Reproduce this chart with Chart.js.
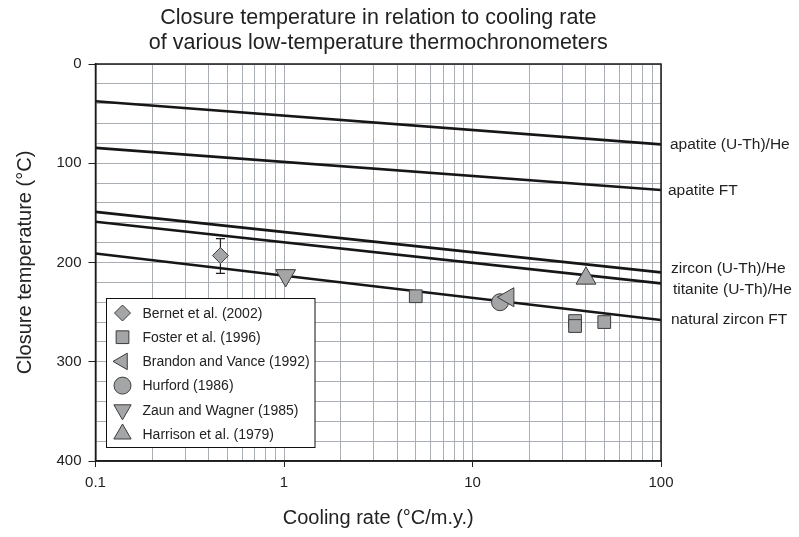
<!DOCTYPE html>
<html>
<head>
<meta charset="utf-8">
<script src="https://cdn.jsdelivr.net/npm/chart.js@4.4.1/dist/chart.umd.min.js"></script>
<style>
  html, body { margin: 0; padding: 0; background: #fff; }
  #wrap { width: 799px; height: 537px; position: relative; }
</style>
</head>
<body>
<div id="wrap"><canvas id="chart"></canvas></div>
<script>
// closure temperature curves: temperature at 0.1 and at 100 degC/m.y.
const rateEnds = [0.1, 100];
const curveNames = ['apatite (U-Th)/He', 'apatite FT', 'zircon (U-Th)/He', 'titanite (U-Th)/He', 'natural zircon FT'];
const curveStart = [37.5, 84.5, 149, 159, 191];
const curveEnd = [81, 127, 210, 221, 258];

// published closure temperatures
const studies = ['Bernet et al. (2002)', 'Foster et al. (1996)', 'Brandon and Vance (1992)', 'Hurford (1986)', 'Zaun and Wagner (1985)', 'Harrison et al. (1979)'];
const bernetRate = [0.46];
const bernetTemp = [193];
const bernetLow = [176];
const bernetHigh = [211];
const fosterRate = [5, 35, 35, 50];
const fosterTemp = [234, 259, 264, 260];
const brandonRate = [15.5];
const brandonTemp = [235];
const hurfordRate = [14];
const hurfordTemp = [240];
const zaunRate = [1.02];
const zaunTemp = [213];
const harrisonRate = [40];
const harrisonTemp = [216];

// axis ticks
const xDecades = [0.1, 1, 10, 100];
const xDecadeLabels = ['0.1', '1', '10', '100'];
const xMultipliers = [1, 2, 3, 4, 5, 6, 7, 8, 9];
const yLabelled = [0, 100, 200, 300, 400];
const yGridStep = 20;

const titleLines = ['Closure temperature in relation to cooling rate', 'of various low-temperature thermochronometers'];

// styling
const FONT = "'Liberation Sans', Arial, sans-serif";
const gridColor = '#a9afb5';
const markFill = '#a4a5a7';
const markEdge = '#3c3c3c';
const labelNudge = [0, 1, -4, 6, 0];
const labelShift = [9, 7, 10, 12, 10];

const xTickValues = [];
xDecades.forEach((d, i) => {
    xMultipliers.forEach(m => {
        if (i === xDecades.length - 1 && m > 1) return;
        xTickValues.push(+(d * m).toPrecision(6));
    });
});
const yTickValues = [];
for (let v = yLabelled[0]; v <= yLabelled[yLabelled.length - 1]; v += yGridStep) yTickValues.push(v);

function isDecade(v) {
    return xDecades.findIndex(d => Math.abs(d - v) < d * 1e-6);
}
function pts(xs, ys) {
    return xs.map((x, i) => ({ x: x, y: ys[i] }));
}

const markerStyles = [
    { pointStyle: 'rectRot', radius: 8, rotation: 0 },
    { pointStyle: 'rect', radius: 9, rotation: 0 },
    { pointStyle: 'triangle', radius: 11, rotation: -90 },
    { pointStyle: 'circle', radius: 8.5, rotation: 0 },
    { pointStyle: 'triangle', radius: 11.5, rotation: 180 },
    { pointStyle: 'triangle', radius: 11.5, rotation: 0 }
];
const studyData = [
    pts(bernetRate, bernetTemp),
    pts(fosterRate, fosterTemp),
    pts(brandonRate, brandonTemp),
    pts(hurfordRate, hurfordTemp),
    pts(zaunRate, zaunTemp),
    pts(harrisonRate, harrisonTemp)
];

const datasets = [];
curveNames.forEach((name, i) => {
    datasets.push({
        label: name,
        data: pts(rateEnds, [curveStart[i], curveEnd[i]]),
        showLine: true,
        borderColor: '#161616',
        borderWidth: 2.6,
        pointRadius: 0,
        pointHoverRadius: 0,
        fill: false,
        order: 2
    });
});
studies.forEach((name, i) => {
    datasets.push({
        label: name,
        data: studyData[i],
        showLine: false,
        pointStyle: markerStyles[i].pointStyle,
        pointRadius: markerStyles[i].radius,
        pointRotation: markerStyles[i].rotation,
        backgroundColor: markFill,
        borderColor: markEdge,
        pointBorderWidth: 1,
        order: 1
    });
});

const decorPlugin = {
    id: 'decor',
    beforeDatasetsDraw(chart) {
        const { ctx, scales: { x, y } } = chart;
        // error bars for Bernet et al.
        ctx.save();
        ctx.strokeStyle = '#222';
        ctx.lineWidth = 1.2;
        bernetRate.forEach((r, i) => {
            const px = x.getPixelForValue(r);
            const lo = y.getPixelForValue(bernetLow[i]);
            const hi = y.getPixelForValue(bernetHigh[i]);
            ctx.beginPath();
            ctx.moveTo(px, lo); ctx.lineTo(px, hi);
            ctx.moveTo(px - 4.5, lo); ctx.lineTo(px + 4.5, lo);
            ctx.moveTo(px - 4.5, hi); ctx.lineTo(px + 4.5, hi);
            ctx.stroke();
        });
        ctx.restore();
    },
    afterDraw(chart) {
        const { ctx, chartArea: a, scales: { y } } = chart;
        ctx.save();
        // frame
        ctx.strokeStyle = '#1a1a1a';
        ctx.lineWidth = 1.5;
        ctx.strokeRect(a.left, a.top, a.right - a.left, a.bottom - a.top);

        // title
        ctx.fillStyle = '#222';
        ctx.font = '21.5px ' + FONT;
        ctx.textAlign = 'center';
        ctx.textBaseline = 'middle';
        const cx = (a.left + a.right) / 2;
        titleLines.forEach((t, i) => ctx.fillText(t, cx, 18.5 + i * 25));

        // curve labels at the right
        ctx.font = '15.5px ' + FONT;
        ctx.textAlign = 'left';
        curveNames.forEach((n, i) => {
            const py = y.getPixelForValue(curveEnd[i]) + labelNudge[i];
            ctx.fillText(n, a.right + labelShift[i], py);
        });

        // legend box
        const bx = 106.5, by = 298.5, bw = 208.5, bh = 149;
        ctx.fillStyle = '#fff';
        ctx.fillRect(bx, by, bw, bh);
        ctx.strokeStyle = '#111';
        ctx.lineWidth = 1;
        ctx.strokeRect(bx, by, bw, bh);
        ctx.font = '14px ' + FONT;
        studies.forEach((s, i) => {
            const iy = by + 14.5 + i * 24.2;
            ctx.fillStyle = markFill;
            ctx.strokeStyle = markEdge;
            ctx.lineWidth = 1;
            const st = markerStyles[i];
            const r = st.pointStyle === 'triangle' ? st.radius - 1.5 : st.radius;
            Chart.helpers.drawPoint(ctx, { pointStyle: st.pointStyle, radius: r, rotation: st.rotation, borderWidth: 1 }, bx + 16, iy);
            ctx.fillStyle = '#222';
            ctx.fillText(s, bx + 36, iy + 1);
        });
        ctx.restore();
    }
};

new Chart(document.getElementById('chart'), {
    type: 'scatter',
    data: { datasets: datasets },
    options: {
        responsive: true,
        maintainAspectRatio: false,
        animation: false,
        layout: { padding: { top: 64, right: 138, bottom: 0, left: 0 } },
        plugins: {
            legend: { display: false },
            title: { display: false },
            tooltip: { enabled: false }
        },
        scales: {
            x: {
                type: 'logarithmic',
                min: 0.1,
                max: 100,
                afterBuildTicks: s => { s.ticks = xTickValues.map(v => ({ value: v })); },
                afterFit: s => { s.height = 76; },
                ticks: {
                    autoSkip: false,
                    maxRotation: 0,
                    padding: 7,
                    color: '#222',
                    font: { family: FONT, size: 15 },
                    callback: v => {
                        const k = isDecade(v);
                        return k >= 0 ? xDecadeLabels[k] : '';
                    }
                },
                grid: {
                    color: gridColor,
                    lineWidth: 1,
                    tickLength: 6,
                    tickColor: c => (c.tick && isDecade(c.tick.value) >= 0) ? '#222' : 'rgba(0,0,0,0)'
                },
                border: { color: '#1a1a1a', width: 1.5 },
                title: {
                    display: true,
                    text: 'Cooling rate (°C/m.y.)',
                    color: '#222',
                    font: { family: FONT, size: 20 },
                    padding: { top: 0, bottom: 7 }
                }
            },
            y: {
                reverse: true,
                min: 0,
                max: 400,
                afterBuildTicks: s => { s.ticks = yTickValues.map(v => ({ value: v })); },
                afterFit: s => { s.width = 95.5; },
                ticks: {
                    autoSkip: false,
                    padding: 7,
                    color: '#222',
                    font: { family: FONT, size: 15 },
                    callback: v => yLabelled.includes(v) ? String(v) : ''
                },
                grid: {
                    color: gridColor,
                    lineWidth: 1,
                    tickLength: 7,
                    tickColor: c => (c.tick && yLabelled.includes(c.tick.value)) ? '#222' : 'rgba(0,0,0,0)'
                },
                border: { color: '#1a1a1a', width: 1.5 },
                title: {
                    display: true,
                    text: 'Closure temperature (°C)',
                    color: '#222',
                    font: { family: FONT, size: 20 },
                    padding: { top: 13, bottom: 0 }
                }
            }
        }
    },
    plugins: [decorPlugin]
});
</script>
</body>
</html>
